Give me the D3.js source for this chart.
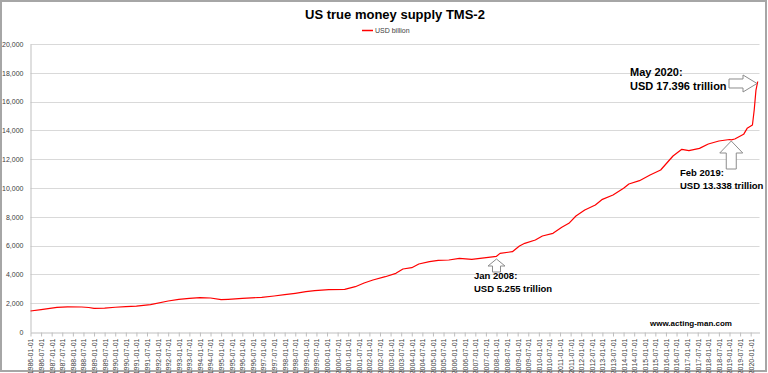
<!DOCTYPE html>
<html>
<head>
<meta charset="utf-8">
<script src="https://cdn.jsdelivr.net/npm/d3@7"></script>
<style>
  body { margin: 0; background: #fff; }
  svg { display: block; font-family: "Liberation Sans", Arial, sans-serif; }
</style>
</head>
<body>
<svg id="chart"></svg>
<script>
// readings, USD billion
let months = [
  '1986-01','1986-07','1987-04','1987-10','1988-06','1988-10','1989-01','1989-07',
  '1990-01','1990-07','1991-01','1991-09','1992-07','1993-01','1993-07','1994-01',
  '1994-07','1995-01','1995-05','1996-01','1996-12','1997-07','1998-01','1998-07',
  '1999-01','1999-06','2000-02','2000-11','2001-05','2001-10','2002-03','2002-10',
  '2003-04','2003-08','2004-01','2004-05','2004-11','2005-04','2005-10','2006-04',
  '2006-11','2007-06','2008-01','2008-03','2008-10','2009-02','2009-05','2009-11',
  '2010-03','2010-09','2011-02','2011-06','2011-10','2012-03','2012-09','2013-01',
  '2013-07','2014-01','2014-04','2014-10','2015-04','2015-10','2016-05','2016-10',
  '2017-02','2017-08','2018-01','2018-07','2019-01','2019-02','2019-04','2019-09',
  '2019-11','2020-02','2020-03','2020-04','2020-05'
];
let values = [
  1458, 1560, 1715, 1740, 1736, 1700, 1645, 1660,
  1720, 1757, 1800, 1896, 2153, 2270, 2340, 2382,
  2360, 2243, 2270, 2330, 2410, 2500, 2590, 2687,
  2800, 2868, 2937, 2965, 3146, 3400, 3611, 3840,
  4076, 4375, 4465, 4722, 4882, 4979, 5000, 5115,
  5046, 5150, 5255, 5463, 5579, 5972, 6157, 6389,
  6667, 6852, 7268, 7546, 8055, 8472, 8819, 9213,
  9514, 9977, 10277, 10509, 10900, 11250, 12222, 12685,
  12593, 12754, 13055, 13263, 13370, 13338, 13400, 13727,
  14143, 14375, 15416, 16805, 17396
];
let yTicks = [0, 2000, 4000, 6000, 8000, 10000, 12000, 14000, 16000, 18000, 20000];
let firstYear = 1986;
let lastTickMonth = 408; // 2020-01

let notes = [
  { month: '2008-01', lines: ['Jan 2008:', 'USD 5.255 trillion'] },
  { month: '2019-02', lines: ['Feb 2019:', 'USD 13.338 trillion'] },
  { month: '2020-05', lines: ['May 2020:', 'USD 17.396 trillion'] }
];

let w = 768, h = 373;
let monthIndex = s => (+s.slice(0, 4) - firstYear) * 12 + (+s.slice(5, 7) - 1);
let data = months.map((m, i) => ({ m: monthIndex(m), v: values[i] }));

let x = d3.scaleLinear().domain([0, 413]).range([30.5, 759.5]);
let y = d3.scaleLinear().domain([0, 20000]).range([332, 44]);

let svg = d3.select('#chart').attr('width', w).attr('height', h);

// outer frame
svg.append('rect')
  .attr('x', 1).attr('y', 1).attr('width', w - 3).attr('height', h - 3)
  .attr('fill', '#fff').attr('stroke', '#a6a6a6').attr('stroke-width', 2);

// gridlines
svg.append('g').selectAll('line')
  .data(yTicks.filter(d => d > 0))
  .enter().append('line')
  .attr('x1', x(0)).attr('x2', x(413))
  .attr('y1', d => Math.round(y(d)) + 0.5).attr('y2', d => Math.round(y(d)) + 0.5)
  .attr('stroke', '#d9d9d9');

// y axis
let yAxis = d3.axisLeft(y).tickValues(yTicks).tickSize(0).tickPadding(7).tickFormat(d3.format(','));
let $yAxis = svg.append('g').attr('transform', 'translate(30.5,0)').call(yAxis);
$yAxis.select('.domain').attr('stroke', '#bfbfbf');
$yAxis.selectAll('text').attr('font-size', 7).attr('fill', '#404040')
  .attr('font-family', '"Liberation Sans", Arial, sans-serif');

// x axis
let fmt = m => `${firstYear + Math.floor(m / 12)}-${String(m % 12 + 1).padStart(2, '0')}-01`;
let xAxis = d3.axisBottom(x)
  .tickValues(d3.range(0, lastTickMonth + 1, 6))
  .tickSizeInner(4).tickSizeOuter(0).tickFormat(fmt);
let $xAxis = svg.append('g').attr('transform', 'translate(0,332.5)').call(xAxis);
$xAxis.select('.domain').attr('stroke', '#bfbfbf');
$xAxis.selectAll('.tick line').attr('stroke', '#bfbfbf');
$xAxis.selectAll('text')
  .attr('font-size', 7).attr('fill', '#404040')
  .attr('font-family', '"Liberation Sans", Arial, sans-serif')
  .attr('transform', 'rotate(-90)')
  .attr('text-anchor', 'end')
  .attr('x', -6).attr('y', 0).attr('dy', '.35em');

// series
let line = d3.line().x(d => x(d.m)).y(d => y(d.v));
svg.append('path').datum(data)
  .attr('d', line).attr('fill', 'none')
  .attr('stroke', '#ff0000').attr('stroke-width', 1.2).attr('stroke-linejoin', 'round');

// title + legend
svg.append('text').attr('x', 395).attr('y', 19).attr('text-anchor', 'middle')
  .attr('font-size', 13).attr('font-weight', 'bold').attr('fill', '#000')
  .text('US true money supply TMS-2');
svg.append('line').attr('x1', 362).attr('x2', 373).attr('y1', 30.5).attr('y2', 30.5)
  .attr('stroke', '#ff0000').attr('stroke-width', 1.5);
svg.append('text').attr('x', 375).attr('y', 33).attr('font-size', 7).attr('fill', '#404040')
  .text('USD billion');

// annotations
let noteText = (lines, tx, ty, size, gap) => {
  let t = svg.append('text').attr('font-size', size).attr('font-weight', 'bold').attr('fill', '#000');
  lines.forEach((s, i) => t.append('tspan').attr('x', tx).attr('y', ty + i * gap).text(s));
};
let arrowStyle = p => p.attr('fill', '#fff').attr('stroke', '#8c8c8c').attr('stroke-width', 1);

// Jan 2008: small up arrow under the line
let a1 = notes[0], ax1 = x(monthIndex(a1.month));
arrowStyle(svg.append('path').attr('d',
  `M${ax1},259 L${ax1 + 8.5},266 L${ax1 + 4},266 L${ax1 + 4},272 L${ax1 - 4},272 L${ax1 - 4},266 L${ax1 - 8.5},266 Z`));
noteText(a1.lines, 474, 279, 9.5, 13);

// Feb 2019: larger up arrow
let a2 = notes[1], ax2 = x(monthIndex(a2.month));
arrowStyle(svg.append('path').attr('d',
  `M${ax2},141 L${ax2 + 11.5},153 L${ax2 + 5},153 L${ax2 + 5},169 L${ax2 - 5},169 L${ax2 - 5},153 L${ax2 - 11.5},153 Z`));
noteText(a2.lines, 680, 176, 9.5, 13);

// May 2020: right arrow pointing at last value
let a3 = notes[2], tipY = y(values[values.length - 1]) + 2;
arrowStyle(svg.append('path').attr('d',
  `M729,${tipY - 4.5} L743,${tipY - 4.5} L743,${tipY - 8.5} L757,${tipY} L743,${tipY + 8.5} L743,${tipY + 4.5} L729,${tipY + 4.5} Z`));
noteText(a3.lines, 630, 76, 11, 14);

// source
svg.append('text').attr('x', 650).attr('y', 326).attr('font-size', 8).attr('font-weight', 'bold')
  .attr('fill', '#000').text('www.acting-man.com');
</script>
</body>
</html>
